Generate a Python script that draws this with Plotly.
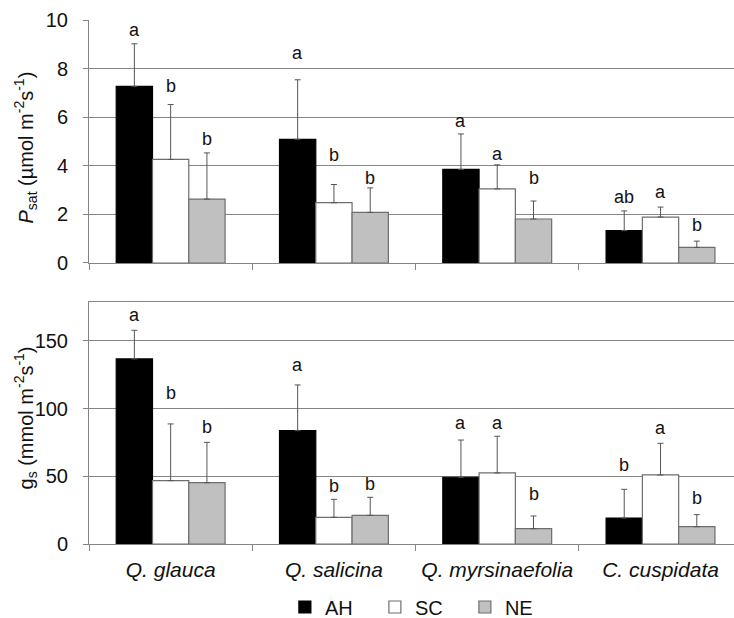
import plotly.graph_objects as go

species = ["Q. glauca", "Q. salicina", "Q. myrsinaefolia", "C. cuspidata"]
groups = ["AH", "SC", "NE"]

psat_mean = {"AH": [7.27, 5.09, 3.85, 1.33],
             "SC": [4.26, 2.48, 3.05, 1.89],
             "NE": [2.63, 2.08, 1.81, 0.64]}
psat_err = {"AH": [1.75, 2.45, 1.46, 0.81],
            "SC": [2.26, 0.75, 0.99, 0.41],
            "NE": [1.90, 1.01, 0.74, 0.26]}
psat_letters = {"AH": ["a", "a", "a", "ab"],
                "SC": ["b", "b", "a", "a"],
                "NE": ["b", "b", "b", "b"]}
psat_letter_y = {"AH": [9.49, 8.54, 5.77, 2.63],
                 "SC": [7.21, 4.35, 4.41, 2.85],
                 "NE": [5.02, 3.41, 3.42, 1.49]}

gs_mean = {"AH": [136.7, 83.7, 49.3, 19.2],
           "SC": [46.8, 19.7, 52.5, 51.0],
           "NE": [45.3, 21.2, 11.3, 12.8]}
gs_err = {"AH": [21.2, 33.8, 27.5, 21.2],
          "SC": [41.9, 13.3, 27.1, 23.4],
          "NE": [29.8, 13.3, 9.4, 8.9]}
gs_letters = {"AH": ["a", "a", "a", "b"],
              "SC": ["b", "b", "a", "a"],
              "NE": ["b", "b", "b", "b"]}
gs_letter_y = {"AH": [167.4, 131.0, 87.9, 57.1],
               "SC": [110.1, 41.5, 87.9, 83.9],
               "NE": [84.7, 43.2, 35.7, 32.7]}

psat_title = "<i>P</i><sub>sat</sub> (µmol m<sup>-2</sup>s<sup>-1</sup>)"
gs_title = "g<sub>s</sub> (mmol m<sup>-2</sup>s<sup>-1</sup>)"

fill = {"AH": "#000000", "SC": "#ffffff", "NE": "#c0c0c0"}
edge = {"AH": "#000000", "SC": "#6e6e6e", "NE": "#6e6e6e"}
FONT = "Liberation Sans, Arial, sans-serif"
GRID = "#858585"
TXT = "#111111"
bargap = 1 / 3
bw = (1 - bargap) / 3
offsets = {"AH": -bw, "SC": 0.0, "NE": bw}
idx = list(range(len(species)))

fig = go.Figure()
for g in groups:
    fig.add_trace(go.Bar(
        x=idx, y=psat_mean[g], name=g, xaxis="x", yaxis="y",
        marker=dict(color=fill[g], line=dict(color=edge[g], width=1.2)),
        error_y=dict(type="data", symmetric=False, array=psat_err[g],
                     arrayminus=[0] * len(species), color="#555555",
                     thickness=1, width=3),
        legendgroup=g, showlegend=True))
for g in groups:
    fig.add_trace(go.Bar(
        x=idx, y=gs_mean[g], name=g, xaxis="x2", yaxis="y2",
        marker=dict(color=fill[g], line=dict(color=edge[g], width=1.2)),
        error_y=dict(type="data", symmetric=False, array=gs_err[g],
                     arrayminus=[0] * len(species), color="#555555",
                     thickness=1, width=3),
        legendgroup=g, showlegend=False))

annotations = []
for g in groups:
    for i in idx:
        annotations.append(dict(x=i + offsets[g], y=psat_letter_y[g][i], xref="x", yref="y",
                                text=psat_letters[g][i], showarrow=False, yshift=2,
                                font=dict(size=18, color=TXT, family=FONT),
                                yanchor="middle"))
        annotations.append(dict(x=i + offsets[g], y=gs_letter_y[g][i], xref="x2", yref="y2",
                                text=gs_letters[g][i], showarrow=False, yshift=2,
                                font=dict(size=18, color=TXT, family=FONT),
                                yanchor="middle"))
# axis titles
annotations.append(dict(text=psat_title, xref="paper", yref="paper", x=-0.0977, y=0.7567,
                        xanchor="center", yanchor="middle", textangle=-90, showarrow=False,
                        font=dict(size=20, color=TXT, family=FONT)))
annotations.append(dict(text=gs_title, xref="paper", yref="paper", x=-0.0977, y=0.2414,
                        xanchor="center", yanchor="middle", textangle=-90, showarrow=False,
                        font=dict(size=20, color=TXT, family=FONT)))

xr = [-0.5, 3.45]
boundaries = [-0.5, 0.5, 1.5, 2.5, 3.5]
common_x = dict(range=xr, showgrid=False, zeroline=False, showline=True,
                linecolor=GRID, linewidth=1, ticks="", automargin=False,
                minor=dict(tickvals=boundaries, ticks="outside", ticklen=6,
                           tickcolor=GRID, tickwidth=1, showgrid=False))
common_y = dict(showgrid=True, gridcolor=GRID, gridwidth=1, zeroline=False,
                showline=True, linecolor=GRID, linewidth=1, ticks="outside",
                ticklen=5, tickcolor=GRID, ticklabelstandoff=11, automargin=False,
                tickfont=dict(size=20, color=TXT, family=FONT))

fig.update_layout(
    width=734, height=618,
    margin=dict(l=89, r=0, t=20, b=74),
    paper_bgcolor="white", plot_bgcolor="white",
    barmode="group", bargap=bargap, bargroupgap=0,
    font=dict(family=FONT, color=TXT),
    xaxis=dict(**common_x, anchor="y", tickvals=idx, showticklabels=False),
    yaxis=dict(**common_y, domain=[0.5363, 1], anchor="x", range=[0, 10], dtick=2),
    xaxis2=dict(**common_x, anchor="y2", mirror=True, tickvals=idx,
                ticktext=["<i>" + s + "</i>" for s in species], ticklabelstandoff=7,
                tickfont=dict(size=21, color=TXT, family=FONT)),
    yaxis2=dict(**common_y, domain=[0, 0.4624], anchor="x2", range=[0, 179], dtick=50),
    legend=dict(orientation="h", x=0.513, xanchor="center", xref="paper",
                y=0.0178, yanchor="middle", yref="container",
                font=dict(size=20, color=TXT, family=FONT),
                traceorder="normal", itemwidth=30, entrywidth=45, entrywidthmode="pixels"),
    annotations=annotations,
)

fig.write_html("out.html")
